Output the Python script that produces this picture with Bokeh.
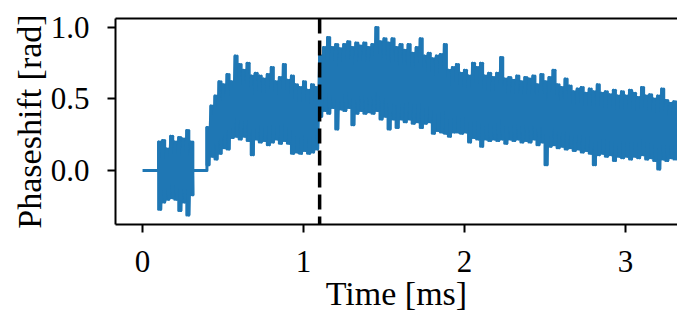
import numpy as np
from bokeh.plotting import figure
from bokeh.models import Range1d, FixedTicker, NumeralTickFormatter, LinearAxis, Span
from bokeh.embed import file_html
from bokeh.resources import INLINE

# ---- data ----
flat_level = 0.0
burst_start = 0.1
burst_end = 0.31
main_start = 0.4
step = 0.025          # spacing of envelope readings (ms)
marker_time = 1.1     # dashed vertical line

burst_hi = [0.20, 0.21, 0.15, 0.24, 0.20, 0.23, 0.22, 0.28, 0.20]
burst_lo = [-0.27, -0.22, -0.20, -0.19, -0.20, -0.28, -0.22, -0.31, -0.17]

main_hi = [
    0.30, 0.45, 0.52, 0.62, 0.60, 0.67, 0.62, 0.80,
    0.74, 0.70, 0.75, 0.66, 0.68, 0.66, 0.64, 0.67,
    0.72, 0.62, 0.65, 0.74, 0.63, 0.66, 0.60, 0.58,
    0.62, 0.56, 0.60, 0.58, 0.80, 0.86, 0.93, 0.86,
    0.88, 0.85, 0.88, 0.90, 0.86, 0.89, 0.87, 0.89,
    0.86, 0.88, 1.00, 0.90, 0.92, 0.89, 0.92, 0.86,
    0.88, 0.84, 0.88, 0.82, 0.86, 0.92, 0.80, 0.82,
    0.78, 0.80, 0.81, 0.88, 0.70, 0.72, 0.74, 0.68,
    0.70, 0.66, 0.75, 0.72, 0.75, 0.66, 0.68, 0.65,
    0.68, 0.79, 0.64, 0.65, 0.63, 0.66, 0.62, 0.65,
    0.64, 0.66, 0.60, 0.67, 0.62, 0.65, 0.70, 0.60,
    0.58, 0.64, 0.59, 0.55, 0.57, 0.58, 0.54, 0.57,
    0.55, 0.60, 0.54, 0.55, 0.53, 0.56, 0.52, 0.55,
    0.52, 0.56, 0.54, 0.51, 0.58, 0.52, 0.53, 0.50,
    0.52, 0.57, 0.49, 0.47, 0.48,
]
main_lo = [
    0.04, 0.10, 0.08, 0.12, 0.16, 0.15, 0.23, 0.24,
    0.22, 0.24, 0.21, 0.11, 0.22, 0.20, 0.21, 0.18,
    0.20, 0.22, 0.19, 0.21, 0.19, 0.12, 0.13, 0.12,
    0.14, 0.12, 0.13, 0.15, 0.38, 0.42, 0.40, 0.44,
    0.29, 0.43, 0.42, 0.44, 0.32, 0.40, 0.42, 0.40,
    0.41, 0.40, 0.42, 0.36, 0.38, 0.29, 0.36, 0.30,
    0.36, 0.34, 0.36, 0.33, 0.34, 0.30, 0.33, 0.34,
    0.26, 0.28, 0.27, 0.26, 0.24, 0.27, 0.27, 0.26,
    0.27, 0.20, 0.23, 0.22, 0.17, 0.22, 0.21, 0.22,
    0.21, 0.22, 0.19, 0.22, 0.21, 0.22, 0.20, 0.21,
    0.20, 0.22, 0.18, 0.20, 0.04, 0.17, 0.18, 0.16,
    0.17, 0.15, 0.16, 0.14, 0.15, 0.13, 0.14, 0.12,
    0.04, 0.11, 0.12, 0.10, 0.11, 0.07, 0.10, 0.09,
    0.10, 0.08, 0.10, 0.09, 0.11, 0.08, 0.09, 0.07,
    0.01, 0.08, 0.07, 0.09, 0.08,
]

x_ticks = [0, 1, 2, 3]
y_ticks = [0.0, 0.5, 1.0]

# ---- build the trace (alternating high / low readings) ----
xs = [0.0, burst_start]
ys = [flat_level, flat_level]
seg_x, seg_lo, seg_hi = [], [], []
for i, (h, l) in enumerate(zip(burst_hi, burst_lo)):
    t = burst_start + i * step
    xs += [t, t + step / 2]
    ys += [h, l]
    seg_x += [t, t + step / 2]
    seg_lo += [l, l]
    seg_hi += [h, h]
xs += [burst_end, main_start]
ys += [flat_level, flat_level]
for i, (h, l) in enumerate(zip(main_hi, main_lo)):
    t = main_start + i * step
    xs += [t, t + step / 2]
    ys += [h, l]
    seg_x += [t, t + step / 2]
    seg_lo += [l, l]
    seg_hi += [h, h]

FONT = "Liberation Serif"
TICK_FS = "31px"
LABEL_FS = "34px"
BLUE = "#1f77b4"

p = figure(width=677, height=314, output_backend="svg", toolbar_location=None,
           x_range=Range1d(-0.168, 3.323), y_range=Range1d(-0.377, 1.062),
           min_border_left=115, min_border_right=0, min_border_top=18,
           min_border_bottom=86)
p.outline_line_color = None
p.xgrid.visible = False
p.ygrid.visible = False
p.background_fill_color = "white"
p.border_fill_color = "white"

p.segment(x0=seg_x, y0=seg_lo, x1=seg_x, y1=seg_hi, line_color=BLUE,
          line_width=3, line_cap="round")
p.line(xs, ys, line_color=BLUE, line_width=3, line_join="round")

p.add_layout(Span(location=marker_time, dimension="height", line_color="black",
                  line_width=3.5, line_dash="15 7"))

for ax in (p.xaxis[0], p.yaxis[0]):
    ax.axis_line_width = 2
    ax.axis_line_color = "black"
    ax.major_tick_line_width = 2
    ax.major_tick_in = 0
    ax.major_tick_out = 8
    ax.minor_tick_out = 0
    ax.minor_tick_in = 0
    ax.major_label_text_font = FONT
    ax.major_label_text_font_size = TICK_FS
    ax.major_label_text_color = "black"
    ax.axis_label_text_font = FONT
    ax.axis_label_text_font_size = LABEL_FS
    ax.axis_label_text_font_style = "normal"
    ax.axis_label_text_color = "black"

p.xaxis[0].ticker = FixedTicker(ticks=x_ticks)
p.yaxis[0].ticker = FixedTicker(ticks=y_ticks)
p.yaxis[0].formatter = NumeralTickFormatter(format="0.0")
p.xaxis[0].axis_label = "Time [ms]"
p.yaxis[0].axis_label = "Phaseshift [rad]"
p.xaxis[0].major_label_standoff = 18
p.xaxis[0].axis_label_standoff = 0
p.yaxis[0].major_label_standoff = 18
p.yaxis[0].axis_label_standoff = 0

top = LinearAxis(ticker=FixedTicker(ticks=[]), axis_line_width=2,
                 axis_line_color="black", major_tick_out=0, major_tick_in=0,
                 minor_tick_out=0, minor_tick_in=0,
                 major_label_text_font_size="0px", major_label_standoff=0)
p.add_layout(top, "above")

open("out.html", "w").write(file_html(p, INLINE))
